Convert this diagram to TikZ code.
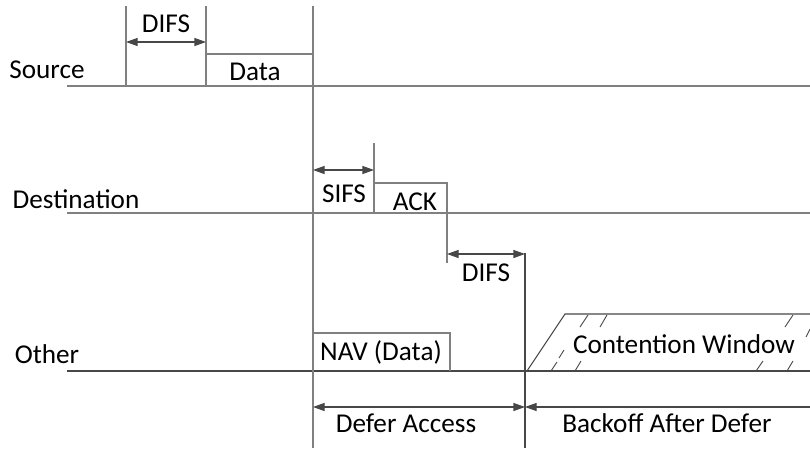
\documentclass[tikz,border=0pt]{standalone}
\usepackage{fontspec}
\setmainfont{Carlito}
\usetikzlibrary{arrows.meta}
\colorlet{linecol}{black!50}
\colorlet{darkcol}{black!72}
\colorlet{arrcol}{black!72}

\begin{document}
\begin{tikzpicture}[x=0.5pt, y=-0.5pt,
  every node/.style={font=\fontsize{13.6}{16}\selectfont, inner sep=0pt, anchor=base},
  tline/.style={linecol, line width=0.6pt},
  dline/.style={darkcol, line width=0.55pt},
  dimarr/.style={arrcol, line width=0.6pt, {Triangle[length=5.8pt,width=4pt]}-{Triangle[length=5.8pt,width=4pt]}},
  leftarr/.style={arrcol, line width=0.6pt, {Triangle[length=5.8pt,width=4pt]}-}]
  \useasboundingbox (0,0) rectangle (810,450);
  % time lines
  \draw[tline] (67,86) -- (810,86);
  \draw[tline] (67,213) -- (810,213);
  \draw[dline] (67,371) -- (810,371);
  % source
  \draw[tline] (126,6) -- (126,86);
  \draw[tline] (206,6) -- (206,86);
  \draw[tline] (313,6) -- (313,448);
  \draw[tline] (206,54) -- (313,54);
  \coordinate (difsA) at (126,42);
  \coordinate (difsB) at (206,42);
  \draw[dimarr] (difsA) -- (difsB);
  \node (difs1) at (166,32) {DIFS};
  \node (data) at (255,80) {Data};
  \node (source) at (47,78) {Source};
  % destination
  \draw[tline] (374,143) -- (374,213);
  \draw[tline] (373,183) -- (447,183) -- (447,263);
  \coordinate (sifsA) at (313,170);
  \coordinate (sifsB) at (374,170);
  \draw[dimarr] (sifsA) -- (sifsB);
  \node (sifs) at (344,202) {SIFS};
  \node (ack) at (415,210) {ACK};
  \node (dest) at (76,208) {Destination};
  \coordinate (difsC) at (447,254);
  \coordinate (difsD) at (525,254);
  \draw[dimarr] (difsC) -- (difsD);
  \node (difs2) at (486,281) {DIFS};
  \draw[dline] (525,253) -- (525,448);
  % other
  \draw[tline] (313,333) -- (450,333) -- (450,371);
  \node (nav) at (381,360) {NAV (Data)};
  \node (other) at (47,363) {Other};
  \draw[dline] (527,371) -- (565,314) -- (810,314);
  \foreach \xa/\ya/\xb/\yb in {551/371/557/362, 559/358/564/350, 575/371/581/361,
      580/327/588/315, 600/327/607/315, 756/371/763/361, 787/371/793/361,
      785/327/793/315, 806/337/810/329}
    {\draw[dline, line width=0.45pt] (\xa,\ya) -- (\xb,\yb);}
  \node (cw) at (684,353) {Contention Window};
  % defer and backoff
  \coordinate (defA) at (313,407);
  \coordinate (defB) at (525,407);
  \coordinate (bkE) at (810,407);
  \draw[dimarr] (defA) -- (defB);
  \draw[leftarr] (defB) -- (bkE);
  \node (defer) at (406,432) {Defer Access};
  \node (backoff) at (667,432) {Backoff After Defer};
\end{tikzpicture}
\end{document}
